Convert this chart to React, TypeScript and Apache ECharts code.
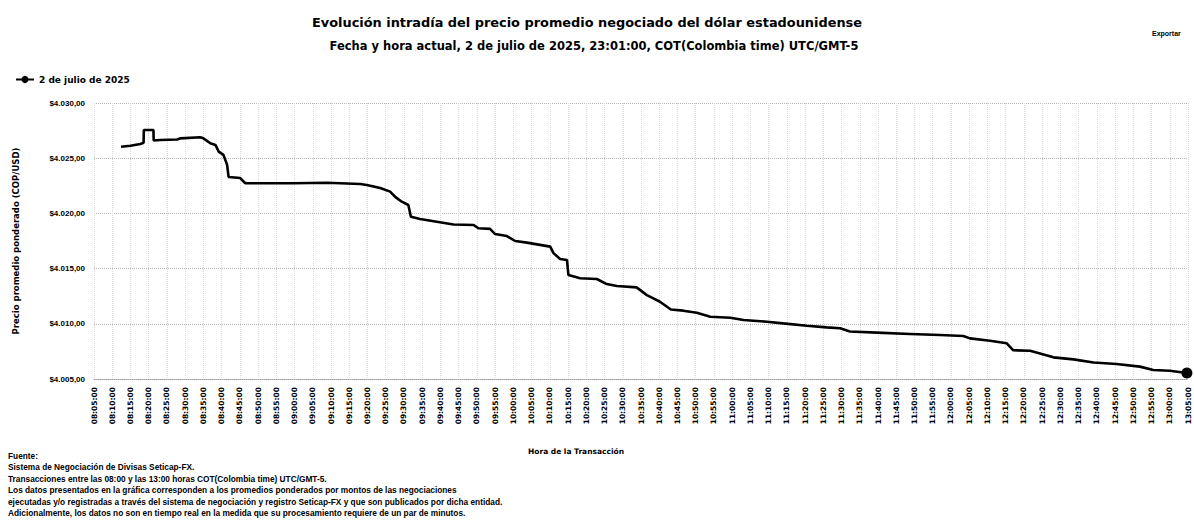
import React, { useEffect, useRef } from "react";
import * as echarts from "echarts";

const seriesName = "2 de julio de 2025";
const times: string[] = [
  "08:12:24", "08:15:00", "08:17:42", "08:18:36", "08:18:40", "08:21:18", "08:21:22", "08:23:12",
  "08:27:48", "08:28:42", "08:34:06", "08:35:00", "08:36:54", "08:38:18", "08:39:12", "08:40:30",
  "08:41:30", "08:41:54", "08:45:06", "08:46:30", "08:59:42", "09:08:54", "09:18:00", "09:19:48",
  "09:23:30", "09:26:12", "09:27:36", "09:29:24", "09:31:12", "09:31:54", "09:34:24", "09:39:00",
  "09:43:36", "09:49:06", "09:50:24", "09:53:36", "09:55:00", "09:58:12", "10:00:30", "10:03:42",
  "10:10:06", "10:11:00", "10:12:48", "10:14:42", "10:15:06", "10:18:18", "10:22:54", "10:25:36",
  "10:28:24", "10:33:48", "10:36:36", "10:38:24", "10:40:12", "10:43:12", "10:46:36", "10:50:18",
  "10:54:00", "10:59:30", "11:03:06", "11:09:30", "11:14:00", "11:20:30", "11:25:54", "11:29:36",
  "11:32:18", "11:39:36", "11:48:48", "11:57:00", "12:03:24", "12:05:12", "12:10:42", "12:15:18",
  "12:17:06", "12:21:42", "12:24:24", "12:28:06", "12:33:36", "12:39:06", "12:45:24", "12:51:48",
  "12:55:30", "13:00:00", "13:04:42",
];
const prices: number[] = [
  4026.04, 4026.13, 4026.29, 4026.4, 4027.55, 4027.55, 4026.6, 4026.65,
  4026.7, 4026.8, 4026.9, 4026.8, 4026.35, 4026.2, 4025.6, 4025.3,
  4024.4, 4023.3, 4023.2, 4022.73, 4022.73, 4022.78, 4022.66, 4022.57,
  4022.3, 4021.97, 4021.5, 4021.06, 4020.76, 4019.7, 4019.5, 4019.25,
  4019.0, 4018.95, 4018.65, 4018.6, 4018.13, 4017.95, 4017.5, 4017.35,
  4016.99, 4016.4, 4015.87, 4015.78, 4014.42, 4014.12, 4014.06, 4013.6,
  4013.42, 4013.3, 4012.6, 4012.3, 4012.0, 4011.3, 4011.19, 4011.0,
  4010.64, 4010.55, 4010.34, 4010.19, 4010.04, 4009.83, 4009.68, 4009.59,
  4009.3, 4009.2, 4009.08, 4008.98, 4008.9, 4008.68, 4008.47, 4008.23,
  4007.6, 4007.56, 4007.32, 4006.96, 4006.78, 4006.5, 4006.36, 4006.12,
  4005.82, 4005.75, 4005.55,
];
const xStart = "08:05";
const xEnd = "13:05";
const yMin = 4005;
const yMax = 4030;
const yStep = 5;
const xStep = 5;

const titleText = "Evolución intradía del precio promedio negociado del dólar estadounidense";
const subTitleText = "Fecha y hora actual, 2 de julio de 2025, 23:01:00, COT(Colombia time) UTC/GMT-5";
const yAxisName = "Precio promedio ponderado (COP/USD)";
const xAxisName = "Hora de la Transacción";
const exportText = "Exportar";
const footLines: string[] = [
  "Fuente:",
  "Sistema de Negociación de Divisas Seticap-FX.",
  "Transacciones entre las 08:00 y las 13:00 horas COT(Colombia time) UTC/GMT-5.",
  "Los datos presentados en la gráfica corresponden a los promedios ponderados por montos de las negociaciones",
  "ejecutadas y/o registradas a través del sistema de negociación y registro Seticap-FX y que son publicados por dicha entidad.",
  "Adicionalmente, los datos no son en tiempo real en la medida que su procesamiento requiere de un par de minutos.",
];

const toMin = (s: string) => {
  const p = s.split(":").map(Number);
  return p[0] * 60 + p[1] + (p[2] || 0) / 60;
};
const pad = (n: number) => (n < 10 ? "0" + n : "" + n);
const fmtMin = (v: number) => {
  const m = Math.round(v);
  return pad(Math.floor(m / 60)) + ":" + pad(m % 60) + ":00";
};
const fmtPrice = (v: number) => {
  const int = Math.floor(v);
  const dec = Math.round((v - int) * 100);
  const s = String(int).replace(/\B(?=(\d{3})+(?!\d))/g, ".");
  return "$" + s + "," + pad(dec);
};

const FONT = "DejaVu Sans";
const FONT2 = "Liberation Sans";

export default function App() {
  const ref = useRef<HTMLDivElement>(null);
  useEffect(() => {
    if (!ref.current) return;
    const chart = echarts.init(ref.current, null, { renderer: "svg" });
    const last = times.length - 1;
    const data = times.map((t, i) => [toMin(t), prices[i]]);
    chart.setOption({
      animation: false,
      backgroundColor: "#ffffff",
      textStyle: { fontFamily: FONT, color: "#000" },
      legend: {
        left: 10,
        top: 70,
        itemWidth: 18,
        itemHeight: 9,
        itemGap: 4,
        textStyle: { fontFamily: FONT, fontSize: 9, fontWeight: "bold", color: "#000" },
        data: [seriesName],
      },
      grid: { left: 94, right: 6, top: 103, bottom: 141, containLabel: false },
      xAxis: {
        type: "value",
        min: toMin(xStart),
        max: toMin(xEnd),
        interval: xStep,
        axisLine: { show: true, lineStyle: { color: "#999", type: "dotted", width: 1 } },
        axisTick: { show: false },
        axisLabel: {
          rotate: 90,
          margin: 8,
          fontSize: 7.5,
          fontWeight: "bold",
          color: "#000",
          fontFamily: FONT,
          formatter: (v: number) => fmtMin(v),
          showMinLabel: true,
          showMaxLabel: true,
        },
        splitLine: { show: true, lineStyle: { color: "#d8d8d8", type: "dotted", width: 1 } },
      },
      yAxis: {
        type: "value",
        min: yMin,
        max: yMax,
        interval: yStep,
        name: yAxisName,
        nameLocation: "middle",
        nameGap: 74,
        nameRotate: 90,
        nameTextStyle: { fontFamily: FONT, fontSize: 8.5, fontWeight: "bold", color: "#000" },
        axisLine: { show: false },
        axisTick: { show: false },
        axisLabel: {
          margin: 9,
          fontSize: 8,
          fontWeight: "bold",
          color: "#000",
          fontFamily: FONT2,
          formatter: (v: number) => fmtPrice(v),
        },
        splitLine: { show: true, lineStyle: { color: "#b8b8b8", type: "dotted", width: 1 } },
      },
      series: [
        {
          name: seriesName,
          type: "line",
          data,
          symbol: "circle",
          symbolSize: (_v: any, p: any) => (p.dataIndex === last ? 11 : 0),
          showAllSymbol: true,
          lineStyle: { color: "#000", width: 2.6 },
          itemStyle: { color: "#000" },
          emphasis: { disabled: true },
        },
      ],
      graphic: [
        {
          type: "text",
          x: 587,
          y: 22,
          style: {
            text: titleText,
            fill: "#000",
            font: `bold 12.9px "${FONT}"`,
            textAlign: "center",
            textVerticalAlign: "middle",
          },
        },
        {
          type: "text",
          x: 594,
          y: 46,
          style: {
            text: subTitleText,
            fill: "#000",
            font: `bold 11.5px "${FONT}"`,
            textAlign: "center",
            textVerticalAlign: "middle",
          },
        },
        {
          type: "text",
          x: 1152,
          y: 33,
          style: {
            text: exportText,
            fill: "#000",
            font: `bold 7px "${FONT2}"`,
            textAlign: "left",
            textVerticalAlign: "middle",
          },
        },
        {
          type: "text",
          x: 528,
          y: 451,
          style: {
            text: xAxisName,
            fill: "#000",
            font: `bold 7.5px "${FONT}"`,
            textAlign: "left",
            textVerticalAlign: "middle",
          },
        },
        ...footLines.map((line, i) => ({
          type: "text",
          x: 8,
          y: 456 + i * 11.4,
          style: {
            text: line,
            fill: "#000",
            font: `bold 8.3px "${FONT2}"`,
            textAlign: "left",
            textVerticalAlign: "middle",
          },
        })),
      ],
    });
    return () => chart.dispose();
  }, []);
  return (
    <div
      ref={ref}
      style={{ position: "fixed", left: 0, top: 0, width: 1194, height: 520 }}
    />
  );
}
